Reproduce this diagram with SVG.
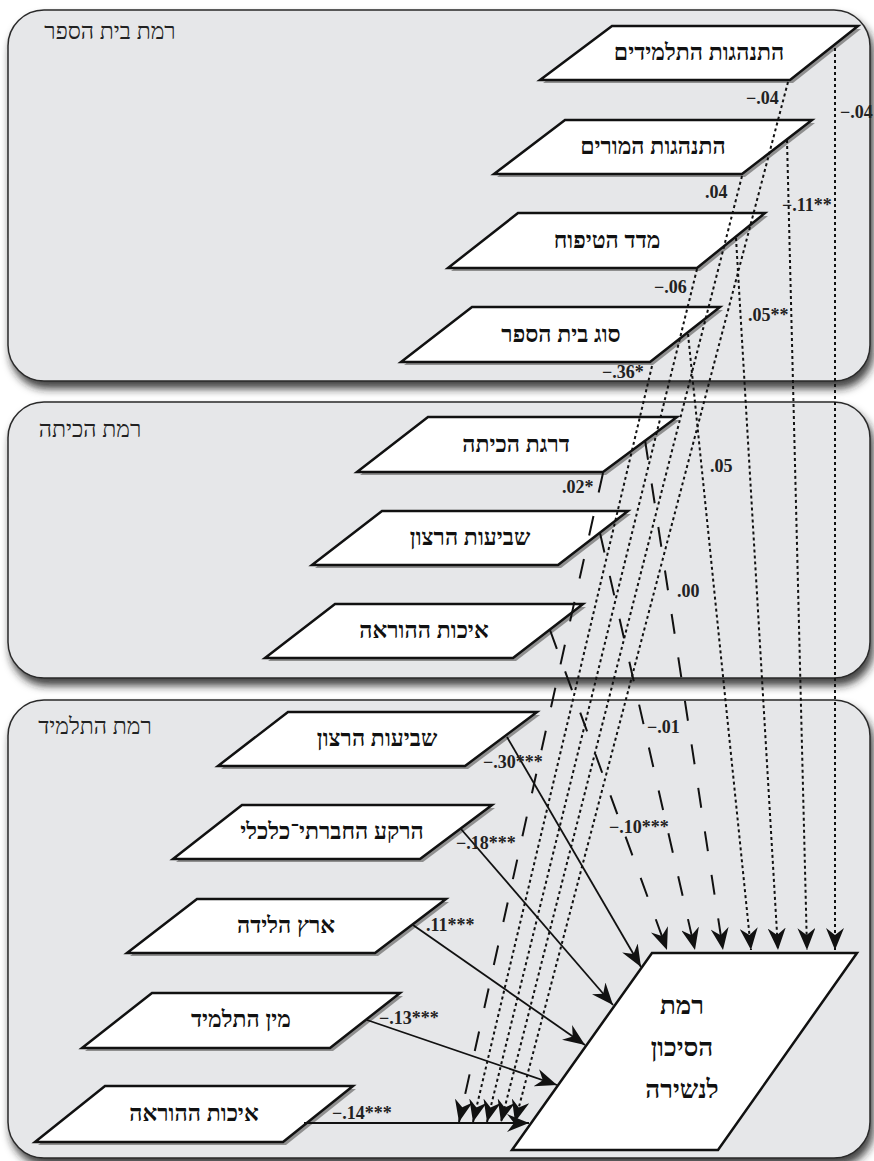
<svg xmlns="http://www.w3.org/2000/svg" width="874" height="1161" viewBox="0 0 874 1161">
<defs>
<style>
.panel{fill:#e6e7e9;stroke:#2a2a2a;stroke-width:1.5;filter:url(#psh)}
.nsh{fill:#8f8f8f}
.node{fill:#fff;stroke:#111;stroke-width:2.5;stroke-linejoin:miter}
.nt{font-family:"Liberation Serif","DejaVu Serif",serif;font-size:23px;font-weight:bold;text-anchor:middle;fill:#111}
.tt{font-family:"Liberation Serif","DejaVu Serif",serif;font-size:26px;font-weight:bold;text-anchor:middle;fill:#111}
.title{font-family:"Liberation Serif","DejaVu Serif",serif;font-size:23px;text-anchor:middle;fill:#222}
.lbl{font-family:"Liberation Serif","DejaVu Serif",serif;font-size:18px;font-weight:bold;fill:#222}
.dot{stroke:#111;stroke-width:2;stroke-dasharray:3 3;fill:none;marker-end:url(#ah)}
.dash{stroke:#111;stroke-width:2;stroke-dasharray:20 24;fill:none;marker-end:url(#ah)}
.sol{stroke:#111;stroke-width:1.8;fill:none;marker-end:url(#ah)}
</style>
<filter id="psh" x="-5%" y="-5%" width="112%" height="120%">
<feDropShadow dx="3" dy="7" stdDeviation="4" flood-color="#222" flood-opacity="0.85"/>
</filter>
<marker id="ah" viewBox="0 0 22 18" refX="22" refY="9" markerWidth="22" markerHeight="18" markerUnits="userSpaceOnUse" orient="auto">
<path d="M0,0 L22,9 L0,18 L7,9 z" fill="#111"/>
</marker>
</defs>

<g id="panels">
<rect class="panel" x="8" y="10" width="862" height="371" rx="36"/>
<rect class="panel" x="8" y="402" width="862" height="276" rx="36"/>
<rect class="panel" x="8" y="700" width="862" height="458" rx="36"/>
<text class="title" x="110" y="39">רמת בית הספר</text>
<text class="title" x="90" y="437">רמת הכיתה</text>
<text class="title" x="95" y="734">רמת התלמיד</text>
</g>

<g id="n-students-behavior">
<polygon class="nsh" points="615,29 861,29 793,83 543,83"/>
<polygon class="node" points="612,26 858,26 790,80 540,80"/>
<text class="nt" x="699" y="60">התנהגות התלמידים</text>
</g>
<g id="n-teachers-behavior">
<polygon class="nsh" points="568,123 815,123 745,177 497,177"/>
<polygon class="node" points="565,120 812,120 742,174 494,174"/>
<text class="nt" x="653" y="154">התנהגות המורים</text>
</g>
<g id="n-nurture-index">
<polygon class="nsh" points="521,216 768,216 700,271 451,271"/>
<polygon class="node" points="518,213 765,213 697,268 448,268"/>
<text class="nt" x="607" y="248">מדד הטיפוח</text>
</g>
<g id="n-school-type">
<polygon class="nsh" points="475,310 723,310 653,365 404,365"/>
<polygon class="node" points="472,307 720,307 650,362 401,362"/>
<text class="nt" x="561" y="342">סוג בית הספר</text>
</g>
<g id="n-class-grade">
<polygon class="nsh" points="431,420 680,420 606,475 360,475"/>
<polygon class="node" points="428,417 677,417 603,472 357,472"/>
<text class="nt" x="516" y="452">דרגת הכיתה</text>
</g>
<g id="n-class-satisfaction">
<polygon class="nsh" points="385,514 631,514 561,568 315,568"/>
<polygon class="node" points="382,511 628,511 558,565 312,565"/>
<text class="nt" x="470" y="545">שביעות הרצון</text>
</g>
<g id="n-class-teaching">
<polygon class="nsh" points="338,607 586,607 516,661 268,661"/>
<polygon class="node" points="335,604 583,604 513,658 265,658"/>
<text class="nt" x="424" y="638">איכות ההוראה</text>
</g>
<g id="n-student-satisfaction">
<polygon class="nsh" points="291,715 540,715 468,769 221,769"/>
<polygon class="node" points="288,712 537,712 465,766 218,766"/>
<text class="nt" x="377" y="746">שביעות הרצון</text>
</g>
<g id="n-ses">
<polygon class="nsh" points="245,808 495,808 423,862 176,862"/>
<polygon class="node" points="242,805 492,805 420,859 173,859"/>
<text class="nt" x="332" y="839">הרקע החברתי־כלכלי</text>
</g>
<g id="n-birth-country">
<polygon class="nsh" points="200,902 449,902 378,956 130,956"/>
<polygon class="node" points="197,899 446,899 375,953 127,953"/>
<text class="nt" x="286" y="933">ארץ הלידה</text>
</g>
<g id="n-gender">
<polygon class="nsh" points="155,996 403,996 333,1051 85,1051"/>
<polygon class="node" points="152,993 400,993 330,1048 82,1048"/>
<text class="nt" x="241" y="1027">מין התלמיד</text>
</g>
<g id="n-student-teaching">
<polygon class="nsh" points="108,1089 356,1089 286,1145 38,1145"/>
<polygon class="node" points="105,1086 353,1086 283,1142 35,1142"/>
<text class="nt" x="194" y="1121">איכות ההוראה</text>
</g>
<g id="n-dropout-risk">
<polygon class="node" points="652,953 857,953 718,1150 512,1150"/>
<text class="tt" x="682" y="1014">רמת</text>
<text class="tt" x="682" y="1056">הסיכון</text>
<text class="tt" x="682" y="1098">לנשירה</text>
</g>

<g id="connectors">
<path class="dot" d="M835,48 L835,950"/>
<path class="dot" d="M787,140 L807,950"/>
<path class="dot" d="M736,238 L778,950"/>
<path class="dot" d="M688,334 L751,950"/>
<path class="dash" d="M645,440 L723,950"/>
<path class="dash" d="M600,533 L695,950"/>
<path class="dash" d="M550,630 L667,950"/>
<path class="dot" d="M788,82 L515,1122"/>
<path class="dot" d="M742,176 L501,1122"/>
<path class="dot" d="M697,269 L487,1122"/>
<path class="dot" d="M652,366 L473,1122"/>
<path class="dash" d="M603,473 L459,1122"/>
<path class="sol" d="M507,737 L641,967"/>
<path class="sol" d="M461,829 L613,1005"/>
<path class="sol" d="M413,925 L585,1045"/>
<path class="sol" d="M367,1020 L557,1085"/>
<path class="sol" d="M304,1123 L529,1123"/>
</g>

<g id="labels">
<text class="lbl" x="746" y="104">−.04</text>
<text class="lbl" x="840" y="118">−.04</text>
<text class="lbl" x="705" y="198">.04</text>
<text class="lbl" x="782" y="211">−.11**</text>
<text class="lbl" x="654" y="293">−.06</text>
<text class="lbl" x="748" y="321">.05**</text>
<text class="lbl" x="602" y="378">−.36*</text>
<text class="lbl" x="562" y="493">.02*</text>
<text class="lbl" x="710" y="472">.05</text>
<text class="lbl" x="677" y="597">.00</text>
<text class="lbl" x="647" y="733">−.01</text>
<text class="lbl" x="483" y="768">−.30***</text>
<text class="lbl" x="456" y="849">−.18***</text>
<text class="lbl" x="426" y="931">.11***</text>
<text class="lbl" x="379" y="1024">−.13***</text>
<text class="lbl" x="332" y="1119">−.14***</text>
<text class="lbl" x="609" y="833">−.10***</text>
</g>
</svg>
